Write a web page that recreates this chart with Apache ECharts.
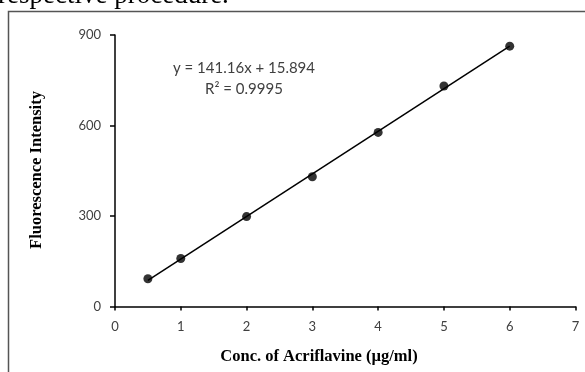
<!DOCTYPE html>
<html>
<head>
<meta charset="utf-8">
<script src="https://cdn.jsdelivr.net/npm/echarts@6/dist/echarts.min.js"></script>
<style>html,body{margin:0;padding:0;background:#fff;}#c{width:585px;height:372px;}</style>
</head>
<body>
<div id="c"></div>
<script>
// Data
var conc = [0.5, 1, 2, 3, 4, 5, 6];
var intensity = [92, 159, 298, 430, 577, 731, 863];
var xTicks = [0, 1, 2, 3, 4, 5, 6, 7];
var yTicks = [0, 300, 600, 900];
var slope = 141.16;
var intercept = 15.894;
var eqText = 'y = 141.16x + 15.894';
var r2Text = 'R² = 0.9995';
var xTitle = 'Conc. of Acriflavine (µg/ml)';
var yTitle = 'Fluorescence Intensity';
var topText = 'respective procedure.';

var points = conc.map(function (x, i) { return [x, intensity[i]]; });
var xMin = Math.min.apply(null, conc), xMax = Math.max.apply(null, conc);
var trend = [[xMin, slope * xMin + intercept], [xMax, slope * xMax + intercept]];

var chart = echarts.init(document.getElementById('c'), null, {renderer: 'canvas'});
var labelFont = 'Lato, "Open Sans", sans-serif';
var titleFont = '"Liberation Serif", "Times New Roman", serif';
chart.setOption({
  animation: false,
  backgroundColor: '#fff',
  grid: {left: 115, top: 35, right: 9.5, bottom: 65.5, containLabel: false},
  xAxis: {
    type: 'value', min: xTicks[0], max: xTicks[xTicks.length - 1], interval: 1,
    axisLine: {show: true, onZero: false, lineStyle: {color: '#000', width: 1.5}},
    axisTick: {show: true, inside: false, length: 4, lineStyle: {color: '#000', width: 1.5}},
    axisLabel: {margin: 14, fontFamily: labelFont, fontSize: 13, color: '#404040'},
    splitLine: {show: false}
  },
  yAxis: {
    type: 'value', min: yTicks[0], max: yTicks[yTicks.length - 1], interval: 300,
    axisLine: {show: true, lineStyle: {color: '#000', width: 1.5}},
    axisTick: {show: true, inside: false, length: 5, lineStyle: {color: '#000', width: 1.5}},
    axisLabel: {margin: 14, fontFamily: labelFont, fontSize: 13, color: '#404040'},
    splitLine: {show: false}
  },
  graphic: [
    {type: 'rect', shape: {x: 8.5, y: 11.5, width: 620, height: 420}, style: {fill: 'none', stroke: '#555', lineWidth: 1.5}, z: -1},
    {type: 'text', x: -2, y: -4.5, style: {text: topText, font: '27px ' + titleFont, fill: '#000', textVerticalAlign: 'middle'}},
    {type: 'text', x: 244, y: 68, style: {text: eqText, font: '15px ' + labelFont, fill: '#404040', textAlign: 'center', textVerticalAlign: 'middle'}},
    {type: 'text', x: 244, y: 89, style: {text: r2Text, font: '15px ' + labelFont, fill: '#404040', textAlign: 'center', textVerticalAlign: 'middle'}},
    {type: 'text', x: 319, y: 357, style: {text: xTitle, font: 'bold 16.5px ' + titleFont, fill: '#000', textAlign: 'center', textVerticalAlign: 'middle'}},
    {type: 'text', x: 37, y: 170, rotation: Math.PI / 2, style: {text: yTitle, font: 'bold 16.5px ' + titleFont, fill: '#000', textAlign: 'center', textVerticalAlign: 'middle'}}
  ],
  series: [
    {type: 'line', data: trend, symbol: 'none', lineStyle: {color: '#000', width: 1.5}, z: 2},
    {type: 'scatter', data: points, symbol: 'circle', symbolSize: 9, itemStyle: {color: '#000'}, z: 3}
  ]
});
</script>
</body>
</html>
